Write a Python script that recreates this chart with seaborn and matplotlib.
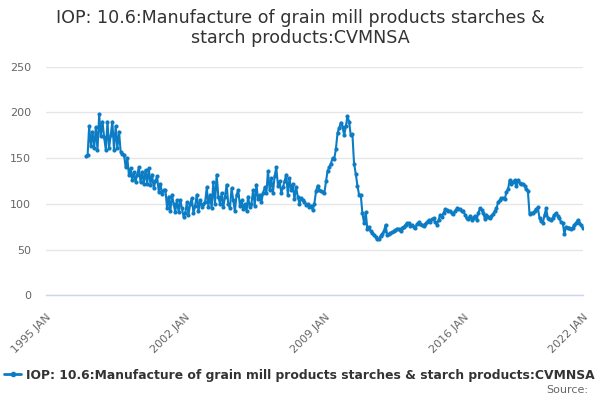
import numpy as np
import pandas as pd
import matplotlib
matplotlib.use("Agg")
import matplotlib.pyplot as plt
import matplotlib.dates as mdates
from matplotlib.lines import Line2D
import seaborn as sns

# monthly index values, 1997 JAN .. 2022 JAN
y1997 = [152, 154, 185, 163, 179, 161, 184, 159, 198, 174, 190, 173]
y1998 = [159, 190, 161, 175, 190, 159, 185, 161, 179, 157, 155, 154]
y1999 = [140, 150, 132, 139, 126, 135, 124, 132, 140, 124, 135, 122]
y2000 = [137, 122, 139, 121, 132, 117, 125, 130, 113, 122, 111, 115]
y2001 = [115, 95, 108, 92, 110, 100, 91, 104, 91, 104, 95, 86]
y2002 = [90, 102, 88, 100, 106, 90, 98, 110, 92, 104, 97, 100]
y2003 = [102, 118, 97, 110, 95, 124, 100, 132, 108, 100, 112, 96]
y2004 = [108, 121, 100, 95, 117, 104, 92, 110, 115, 98, 104, 94]
y2005 = [100, 92, 108, 96, 100, 115, 98, 121, 105, 110, 102, 112]
y2006 = [118, 112, 136, 115, 128, 112, 130, 140, 120, 125, 112, 118]
y2007 = [125, 132, 110, 128, 115, 122, 105, 118, 108, 100, 106, 104]
y2008 = [102, 99, 100, 97, 98, 93, 100, 114, 120, 115, 114, 113]
y2009 = [112, 125, 136, 140, 144, 150, 149, 160, 178, 183, 189, 184]
y2010 = [175, 185, 196, 190, 175, 176, 144, 133, 120, 110, 110, 90]
y2011 = [79, 91, 73, 75, 70, 68, 66, 64, 62, 61, 65, 67]
y2012 = [70, 77, 66, 67, 68, 69, 70, 71, 73, 72, 70, 74]
y2013 = [75, 77, 79, 79, 76, 77, 75, 74, 78, 80, 78, 77]
y2014 = [76, 78, 80, 82, 80, 83, 84, 80, 77, 82, 88, 86]
y2015 = [90, 94, 93, 92, 92, 90, 89, 92, 95, 94, 94, 92]
y2016 = [92, 88, 84, 83, 87, 82, 85, 87, 82, 90, 95, 93]
y2017 = [90, 83, 88, 86, 85, 87, 89, 92, 95, 102, 104, 106]
y2018 = [106, 105, 113, 116, 126, 122, 124, 126, 119, 126, 123, 122]
y2019 = [122, 120, 116, 114, 89, 90, 90, 92, 94, 96, 84, 81]
y2020 = [79, 88, 95, 85, 83, 82, 85, 88, 90, 87, 84, 80]
y2021 = [79, 67, 75, 74, 74, 73, 74, 77, 79, 82, 79, 77]
y2022 = [74]

values = (y1997 + y1998 + y1999 + y2000 + y2001 + y2002 + y2003 + y2004 + y2005
          + y2006 + y2007 + y2008 + y2009 + y2010 + y2011 + y2012 + y2013 + y2014
          + y2015 + y2016 + y2017 + y2018 + y2019 + y2020 + y2021 + y2022)
dates = pd.date_range("1997-01-01", periods=len(values), freq="MS")

series_name = "IOP: 10.6:Manufacture of grain mill products starches & starch products:CVMNSA"
title = "IOP: 10.6:Manufacture of grain mill products starches &\nstarch products:CVMNSA"

tick_dates = ["1995-01-01", "1996-10-01", "1998-07-01", "2000-04-01", "2002-01-01",
              "2003-10-01", "2005-07-01", "2007-04-01", "2009-01-01", "2010-10-01",
              "2012-07-01", "2014-04-01", "2016-01-01", "2017-10-01", "2019-07-01",
              "2022-01-01"]
tick_labels = ["1995 JAN", "", "", "", "2002 JAN", "", "", "", "2009 JAN", "", "", "",
               "2016 JAN", "", "", "2022 JAN"]
y_ticks = [0, 50, 100, 150, 200, 250]

df = pd.DataFrame({"date": dates, "value": values})

sns.set_style("white")
plt.rcParams['font.family'] = ['DejaVu Sans']

line_col = "#0c7cc4"
fig = plt.figure(figsize=(6, 4), dpi=100)
ax = fig.add_axes([0.077, 0.262, 0.894, 0.571])

sns.lineplot(data=df, x="date", y="value", ax=ax, color=line_col, linewidth=1.5,
             marker="o", markersize=3, markeredgewidth=0, legend=False)

ax.set_ylim(0, 250)
ax.set_xlim(pd.Timestamp("1995-01-01"), pd.Timestamp("2022-01-01"))
ax.set_yticks(y_ticks)
ax.set_yticklabels([str(v) for v in y_ticks], color="#666666", fontsize=8)
ax.yaxis.grid(True, color="#e6e6e6", linewidth=1)
ax.set_axisbelow(True)

ax.set_xticks([mdates.date2num(pd.Timestamp(d)) for d in tick_dates])
ax.set_xticklabels(tick_labels, rotation=45, ha="right", va="top",
                   rotation_mode="anchor", color="#666666", fontsize=8)
ax.tick_params(axis="x", length=8, width=1, color="#ccd6eb", pad=4)
ax.tick_params(axis="y", length=0, pad=11)

for s in ["top", "right", "left"]:
    ax.spines[s].set_visible(False)
ax.spines["bottom"].set_color("#ccd6eb")
ax.spines["bottom"].set_linewidth(1)
ax.set_xlabel("")
ax.set_ylabel("")

fig.suptitle(title, y=0.978, fontsize=12.6, color="#333333", linespacing=1.15)

handle = Line2D([], [], color=line_col, linewidth=2, marker="o", markersize=3)
fig.legend(handles=[handle], labels=[series_name], loc="center left",
           bbox_to_anchor=(-0.012, 0.062), frameon=False, handlelength=1.4,
           handletextpad=0.4, prop={"weight": "bold", "size": 8.9},
           labelcolor="#333333")
fig.text(0.98, 0.025, "Source:", ha="right", va="center", color="#666666", fontsize=8)

fig.savefig("out.png", dpi=100)
